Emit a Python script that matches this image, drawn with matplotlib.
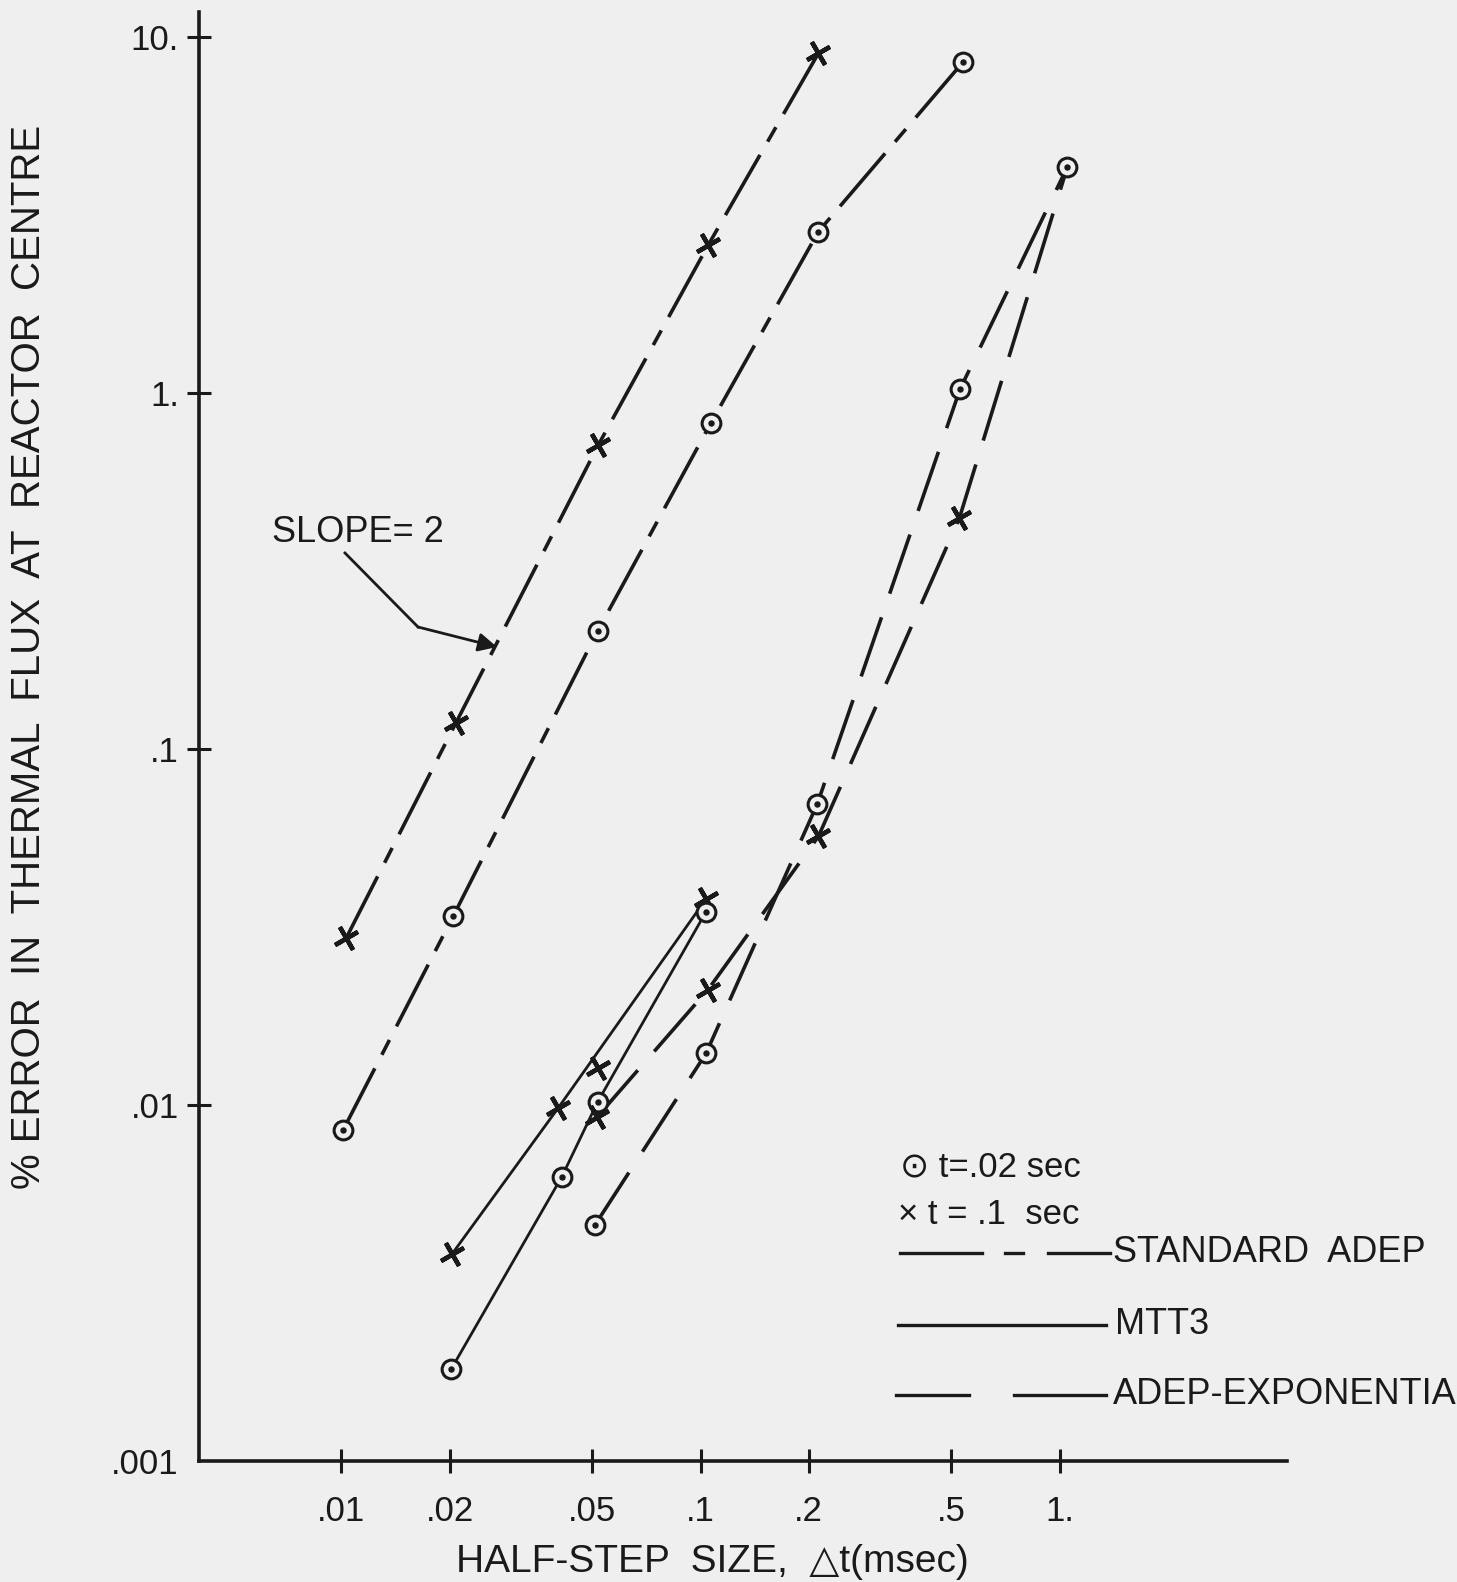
import numpy as np
import matplotlib
matplotlib.use("Agg")
import matplotlib.pyplot as plt
from matplotlib.lines import Line2D

plt.rcParams['font.family'] = ['Liberation Sans', 'DejaVu Sans']
plt.rcParams['lines.scale_dashes'] = False

INK = '#1a1a1a'
PAPER = '#efefef'

# values: half-step size (msec) -> % error
# standard ADEP
std_x_dt = [0.0103, 0.0208, 0.0519, 0.105, 0.213]
std_x_err = [0.0294, 0.118, 0.714, 2.60, 9.00]
std_o_dt = [0.0101, 0.0205, 0.0517, 0.107, 0.213, 0.538]
std_o_err = [0.0085, 0.034, 0.2145, 0.825, 2.84, 8.49]
# MTT3 (the .05 cross is not on the drawn line)
mtt_x_dt = [0.0203, 0.0402, 0.0519, 0.1036]
mtt_x_err = [0.00381, 0.00983, 0.01268, 0.0379]
mtt_x_on_line = [0, 1, 3]
mtt_o_dt = [0.0202, 0.0411, 0.0517, 0.1036]
mtt_o_err = [0.00181, 0.00629, 0.0102, 0.0349]
# ADEP-exponential (cross curve runs into the last circle)
exp_o_dt = [0.0508, 0.1036, 0.2115, 0.528, 1.051]
exp_o_err = [0.0046, 0.01396, 0.0701, 1.024, 4.31]
exp_x_dt = [0.0514, 0.105, 0.213, 0.526, 1.051]
exp_x_err = [0.00923, 0.0211, 0.0568, 0.445, 4.31]
exp_x_marked = [0, 1, 2, 3]

xtick_vals = [0.01, 0.02, 0.05, 0.1, 0.2, 0.5, 1.0]
xtick_labels = ['.01', '.02', '.05', '.1', '.2', '.5', '1.']
ytick_vals = [0.001, 0.01, 0.1, 1.0, 10.0]
ytick_labels = ['.001', '.01', '.1', '1.', '10.']

W, H = 1457, 1582


def px(x, y):
    # pixel position on the page -> figure fraction
    return x / W, 1 - y / H


fig = plt.figure(figsize=(W / 100, H / 100), dpi=100, facecolor=PAPER)
ax = fig.add_axes([199 / W, 1 - 1461 / H, (1287 - 199) / W, (1461 - 12) / H])
ax.set_facecolor(PAPER)
ax.set_xscale('log')
ax.set_yscale('log')
ax.set_xlim(0.00401, 4.30)
ax.set_ylim(0.001, 11.75)

for s in ['top', 'right']:
    ax.spines[s].set_visible(False)
for s in ['left', 'bottom']:
    ax.spines[s].set_linewidth(2.6)
    ax.spines[s].set_color(INK)

std_dash = (50, 11, 12, 11)
exp_dash = (45, 18)


def circles(xs, ys):
    ax.plot(xs, ys, ls='none', marker='o', ms=13.5, mfc=PAPER, mec=INK, mew=2.2, zorder=4)
    ax.plot(xs, ys, ls='none', marker='o', ms=3.6, mfc=INK, mec=INK, zorder=5)


def crosses(xs, ys):
    ax.plot(xs, ys, ls='none', marker=(4, 2, 30), ms=19, mec=INK, mew=3.2, zorder=4)


# standard ADEP
ax.plot(std_x_dt, std_x_err, color=INK, lw=2.6, dashes=std_dash)
crosses(std_x_dt, std_x_err)
ax.plot(std_o_dt, std_o_err, color=INK, lw=2.6, dashes=std_dash)
circles(std_o_dt, std_o_err)

# MTT3
mx = np.array(mtt_x_dt)
my = np.array(mtt_x_err)
ax.plot(mx[mtt_x_on_line], my[mtt_x_on_line], color=INK, lw=2.0)
crosses(mtt_x_dt, mtt_x_err)
ax.plot(mtt_o_dt, mtt_o_err, color=INK, lw=2.0)
circles(mtt_o_dt, mtt_o_err)

# ADEP-exponential
ax.plot(exp_o_dt, exp_o_err, color=INK, lw=2.6, dashes=exp_dash)
ax.plot(exp_x_dt, exp_x_err, color=INK, lw=2.6, dashes=exp_dash)
ex = np.array(exp_x_dt)
ey = np.array(exp_x_err)
crosses(ex[exp_x_marked], ey[exp_x_marked])
circles(exp_o_dt, exp_o_err)

# ticks
ax.set_xticks(xtick_vals)
ax.set_xticklabels(xtick_labels)
ax.set_yticks(ytick_vals)
ax.set_yticklabels(ytick_labels)
ax.minorticks_off()
ax.tick_params(axis='both', direction='inout', length=17, width=2.2, color=INK,
               labelsize=25, labelcolor=INK)
ax.tick_params(axis='x', pad=16)
ax.tick_params(axis='y', pad=6)
ax.yaxis.get_major_ticks()[0].tick1line.set_visible(False)

# axis titles
fig.text(*px(29, 657), '% ERROR  IN  THERMAL  FLUX  AT  REACTOR  CENTRE',
         rotation=90, ha='center', va='center', fontsize=29, color=INK)
fig.text(*px(712, 1562), 'HALF-STEP  SIZE,  \u25b3t(msec)',
         ha='center', va='center', fontsize=28, color=INK)

# slope annotation
fig.text(*px(358, 532), 'SLOPE= 2', ha='center', va='center', fontsize=26, color=INK)
fig.add_artist(Line2D([345 / W, 418 / W], [1 - 553 / H, 1 - 627 / H],
                      transform=fig.transFigure, color=INK, lw=2.0))
ax.annotate('', xy=px(497, 647), xytext=px(418, 627),
            xycoords='figure fraction', textcoords='figure fraction',
            arrowprops=dict(arrowstyle='-|>', color=INK, lw=2.0, mutation_scale=28,
                            shrinkA=0, shrinkB=0))

# hand-made key
fig.text(*px(900, 1167), '\u2299 t=.02 sec', ha='left', va='center', fontsize=25, color=INK)
fig.text(*px(898, 1215), '\u00d7 t = .1  sec', ha='left', va='center', fontsize=25, color=INK)


def key_line(x0, x1, y):
    fig.add_artist(Line2D([x0 / W, x1 / W], [1 - y / H, 1 - y / H],
                          transform=fig.transFigure, color=INK, lw=2.4))


for a, b in [(900, 982), (1005, 1023), (1048, 1110)]:
    key_line(a, b, 1253)
key_line(898, 1106, 1325)
for a, b in [(896, 969), (1014, 1106)]:
    key_line(a, b, 1395)

fig.text(*px(1113, 1253), 'STANDARD  ADEP', ha='left', va='center', fontsize=26, color=INK)
fig.text(*px(1115, 1325), 'MTT3', ha='left', va='center', fontsize=26, color=INK)
fig.text(*px(1113, 1395), 'ADEP-EXPONENTIA', ha='left', va='center', fontsize=26, color=INK)

fig.savefig('out.png', dpi=100, facecolor=PAPER)
